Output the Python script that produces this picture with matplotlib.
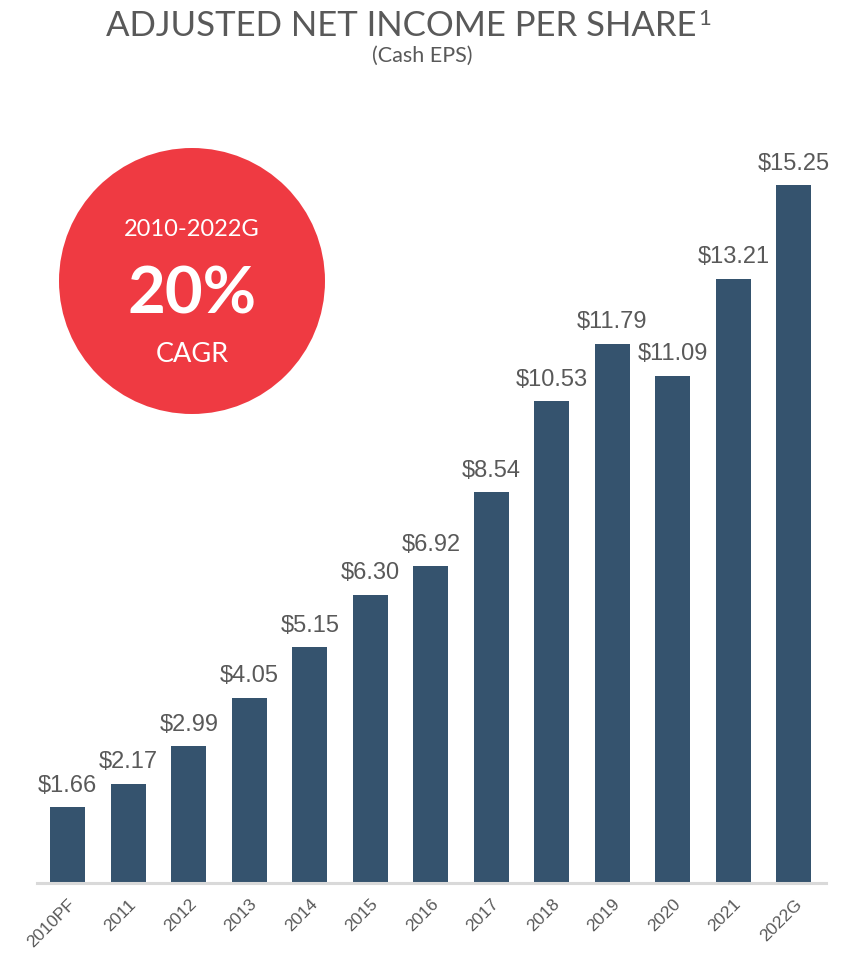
import matplotlib
matplotlib.use("Agg")
from matplotlib import pyplot as plt
from matplotlib.patches import Ellipse

years = ['2010PF', '2011', '2012', '2013', '2014', '2015', '2016',
         '2017', '2018', '2019', '2020', '2021', '2022G']
eps = [1.66, 2.17, 2.99, 4.05, 5.15, 6.30, 6.92, 8.54, 10.53, 11.79, 11.09, 13.21, 15.25]

bar_color = '#35536E'
gray = '#595959'

fig = plt.figure(figsize=(8.52, 9.54), dpi=100)
ax = fig.add_axes([37 / 852, 1 - 884 / 954, 789 / 852, 755 / 954])

x = list(range(len(years)))
ax.bar(x, eps, width=0.58, color=bar_color, zorder=2)
for xi, v in zip(x, eps):
    ax.text(xi, v + 0.25, f'${v:.2f}', ha='center', va='bottom',
            fontsize=17, color=gray, family='Liberation Sans')

ax.set_xlim(-0.51, 12.53)
ax.set_ylim(0, 16.5)
ax.set_yticks([])
ax.set_xticks(x)
ax.set_xticklabels(years, rotation=45, ha='right', rotation_mode='anchor',
                   fontsize=12.5, color=gray, family='Liberation Sans')
ax.tick_params(axis='x', length=0, pad=9)
for s in ['top', 'right', 'left']:
    ax.spines[s].set_visible(False)
ax.spines['bottom'].set_color('#D9D9D9')
ax.spines['bottom'].set_linewidth(2.2)

# title
fig.text(697 / 852, 1 - 26 / 954, 'ADJUSTED NET INCOME PER SHARE', ha='right', va='center',
         fontsize=25, color=gray, family='Lato')
fig.text(698 / 852, 1 - 19 / 954, '1', ha='left', va='center',
         fontsize=16, color=gray, family='Lato')
fig.text(422 / 852, 1 - 56 / 954, '(Cash EPS)', ha='center', va='center',
         fontsize=15.5, color=gray, family='Lato')

# CAGR circle
cx, cy, r = 192 / 852, 1 - 282 / 954, 133
fig.patches.append(Ellipse((cx, cy), 2 * r / 852, 2 * r / 954, transform=fig.transFigure,
                           facecolor='#EF3A42', edgecolor='none', zorder=5))
fig.text(cx, 1 - 230 / 954, '2010-2022G', ha='center', va='center',
         fontsize=17, color='white', family='Lato', zorder=6)
fig.text(cx, 1 - 295 / 954, '20%', ha='center', va='center',
         fontsize=47, color='white', family='Lato', fontweight='bold', zorder=6)
fig.text(cx, 1 - 355 / 954, 'CAGR', ha='center', va='center',
         fontsize=19.5, color='white', family='Lato', zorder=6)

fig.savefig('out.png', dpi=100)
